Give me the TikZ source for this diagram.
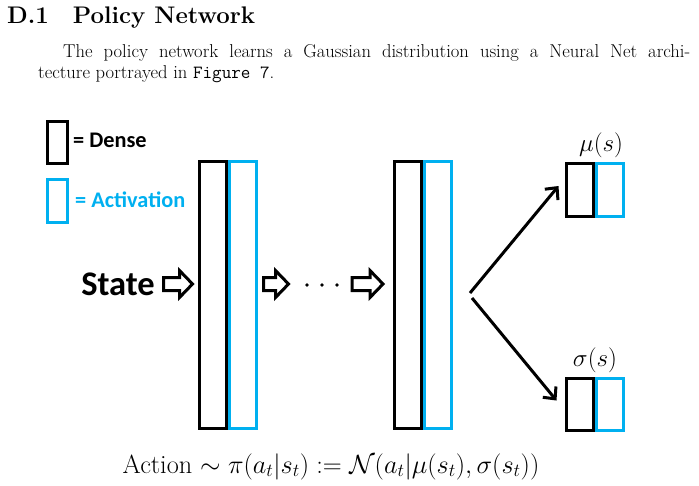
\RequirePackage{fix-cm}
\documentclass[tikz,border=0pt]{standalone}
\usepackage{fontspec}
\newfontfamily\calibri{Carlito}
\usetikzlibrary{arrows.meta,calc}
\definecolor{actblue}{RGB}{0,176,240}
\newcommand{\holarrow}[3]{\draw[hollowarr] (#1,#2) ++(0,-6.5) -- ++(#3-13,0) -- ++(0,-7) -- ++(13,13.5) -- ++(-13,13.5) -- ++(0,-7) -- ++(-#3+13,0) -- cycle;}
\begin{document}
\begin{tikzpicture}[x=1pt,y=-1pt,
  dense/.style={draw=black,line width=3pt,inner sep=0pt,outer sep=0pt},
  activ/.style={draw=actblue,line width=3pt,inner sep=0pt,outer sep=0pt},
  hollowarr/.style={draw=black,line width=3pt,line join=miter},
  conn/.style={draw=black,line width=3pt,-{Straight Barb[length=9pt,width=17pt,line width=3pt]}},
  body/.style={inner sep=0pt,font=\fontsize{18.6}{22}\selectfont},
  lbl/.style={inner sep=0pt,font=\fontsize{25}{30}\selectfont}]
\useasboundingbox (0,0) rectangle (699,485);
% heading and text
\node[anchor=base west,inner sep=0pt,font=\fontsize{24}{29}\selectfont\bfseries] (head) at (7,23) {D.1\quad Policy Network};
\node[anchor=base west,body] (line1) at (63,57) {\makebox[627pt][s]{The policy network learns a Gaussian distribution using a Neural Net archi-}};
\node[anchor=base west,body] (line2) at (38,78) {tecture portrayed in \texttt{Figure 7}.};
% legend
\node[dense,minimum width=20pt,minimum height=42pt] (legd) at (57.5,142.5) {};
\node[activ,minimum width=20pt,minimum height=43pt] (lega) at (57.5,201) {};
\node[anchor=west,inner sep=0pt,font=\calibri\bfseries\fontsize{22.3}{26}\selectfont] (legdt) at (73,140) {= Dense};
\node[anchor=west,inner sep=0pt,text=actblue,font=\calibri\bfseries\fontsize{22.3}{26}\selectfont] (legat) at (75,200) {= Activation};
% state
\node[anchor=east,inner sep=0pt,font=\calibri\bfseries\fontsize{34.5}{40}\selectfont] (state) at (155,284) {State};
% layers
\node[dense,minimum width=27pt,minimum height=267pt] (d1) at (213,295) {};
\node[activ,minimum width=27pt,minimum height=267pt] (a1) at (243,295) {};
\node[dense,minimum width=27pt,minimum height=267pt] (d2) at (408,295) {};
\node[activ,minimum width=27pt,minimum height=267pt] (a2) at (438,295) {};
% outputs
\node[dense,minimum width=27pt,minimum height=53pt] (dm) at (580,190) {};
\node[activ,minimum width=27pt,minimum height=53pt] (am) at (610,190) {};
\node[dense,minimum width=27pt,minimum height=52pt] (ds) at (580,404.5) {};
\node[activ,minimum width=27pt,minimum height=52pt] (as) at (610,404.5) {};
\node[anchor=base,lbl] (mulbl) at (601,151) {$\mu(s)$};
\node[anchor=base,lbl] (siglbl) at (595,366) {$\sigma(s)$};
% hollow arrows and dots
\holarrow{163.5}{284}{29}
\holarrow{263.5}{284}{25}
\holarrow{352}{284}{31}
\fill (307,285) circle (1.9pt) (322,285) circle (1.9pt) (337,285) circle (1.9pt);
% diagonal arrows
\coordinate (apexu) at (470,293);
\coordinate (apexl) at (472,298);
\draw[conn] (apexu) -- ($(dm.west)+(-8,-4)$);
\draw[conn] (apexl) -- ($(ds.west)+(-10,-4)$);
% equation
\node[anchor=base,inner sep=0pt,font=\fontsize{26.3}{32}\selectfont] (eq) at (331,473) {Action $\sim \pi(a_t|s_t) := \mathcal{N}(a_t|\mu(s_t),\sigma(s_t))$};
\end{tikzpicture}
\end{document}
